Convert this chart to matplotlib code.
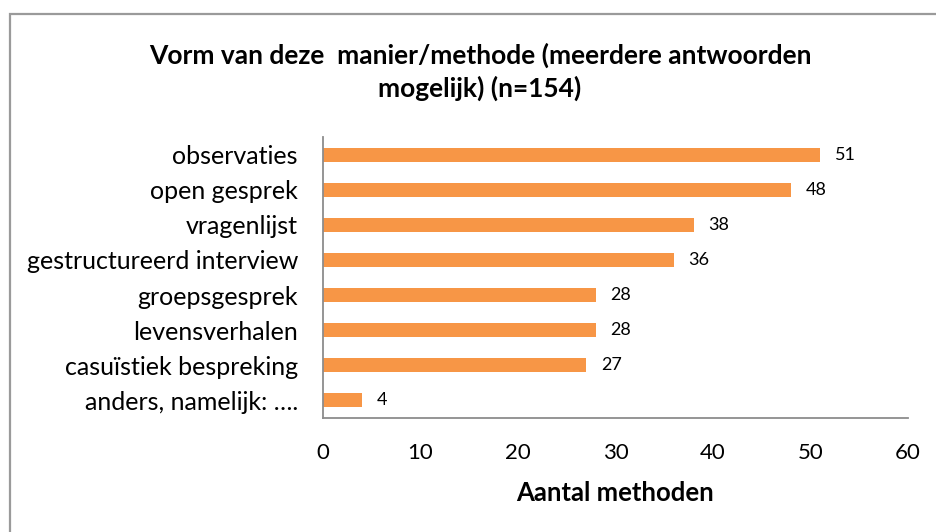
import matplotlib.pyplot as plt
from matplotlib.patches import Rectangle

# data (bottom to top order)
categories = ['anders, namelijk: ….', 'casuïstiek bespreking', 'levensverhalen',
              'groepsgesprek', 'gestructureerd interview', 'vragenlijst',
              'open gesprek', 'observaties']
values = [4, 27, 28, 28, 36, 38, 48, 51]
xticks = [0, 10, 20, 30, 40, 50, 60]

plt.rcParams['font.family'] = ['Lato', 'DejaVu Sans']

fig = plt.figure(figsize=(9.37, 5.32), dpi=100)
ax = fig.add_axes([323/937, 1-418/532, (908-323)/937, (418-137)/532])

# grey frame around the chart (cut off at right and bottom like the original)
fig.patches.append(Rectangle((10/937, -0.05), 1.2, 1-14/532+0.05,
                             transform=fig.transFigure, fill=False,
                             edgecolor='#9a9a9a', linewidth=1.6))

ypos = range(len(categories))
ax.barh(ypos, values, height=0.4, color='#F79646')

for y, v in zip(ypos, values):
    ax.text(v + 1.5, y, str(v), va='center', ha='left', fontsize=13)

ax.set_xlim(0, 60)
ax.set_ylim(-0.5, len(categories) - 0.5)
ax.set_xticks(xticks)
ax.set_yticks(list(ypos))
ax.set_yticklabels(categories, fontsize=18)
ax.tick_params(axis='x', labelsize=16, length=0, pad=18)
ax.tick_params(axis='y', length=0, pad=18)

for s in ['top', 'right']:
    ax.spines[s].set_visible(False)
ax.spines['left'].set_color('#8c8c8c')
ax.spines['bottom'].set_color('#8c8c8c')
ax.spines['left'].set_linewidth(1.3)
ax.spines['bottom'].set_linewidth(1.3)

ax.set_xlabel('Aantal methoden', fontsize=18.5, fontweight='bold', labelpad=13)

fig.text(480/937, 1-55/532, 'Vorm van deze  manier/methode (meerdere antwoorden',
         ha='center', va='center', fontsize=19, fontweight='bold')
fig.text(480/937, 1-88/532, 'mogelijk) (n=154)',
         ha='center', va='center', fontsize=19, fontweight='bold')

fig.savefig('out.png', dpi=100)
